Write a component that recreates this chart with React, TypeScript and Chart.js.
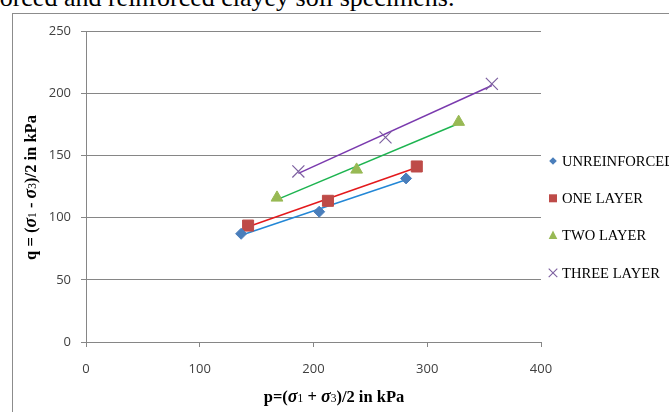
import React, { useEffect, useRef } from 'react';
import { Chart, registerables } from 'chart.js';

Chart.register(...registerables);

// ---- data ----
const seriesNames = ['UNREINFORCED', 'ONE LAYER', 'TWO LAYER', 'THREE LAYER'];
const unreinforcedP = [136.4, 205.0, 281.4];
const unreinforcedQ = [87.0, 104.7, 131.5];
const oneLayerP = [142.5, 212.7, 290.8];
const oneLayerQ = [93.6, 113.5, 141.1];
const twoLayerP = [167.9, 237.9, 327.6];
const twoLayerQ = [116.0, 138.5, 176.9];
const threeLayerP = [186.7, 263.3, 356.8];
const threeLayerQ = [137.1, 164.5, 207.5];
const xTickValues = [0, 100, 200, 300, 400];
const yTickValues = [0, 50, 100, 150, 200, 250];

const markerColors = ['#4A7EBB', '#BE4B48', '#98B954', '#7D60A0'];
const trendColors = ['#2387D6', '#E3191C', '#1DB450', '#7A3AAE'];
const pointStyles = ['rectRot', 'rect', 'triangle', 'crossRot'];
const pointRadii = [5.5, 7.8, 6.8, 8.5];

const SERIF = '"Liberation Serif", "Times New Roman", serif';
const SANS = '"Open Sans", "Liberation Sans", sans-serif';

function pairs(xs: number[], ys: number[]) {
  return xs.map((x, i) => ({ x, y: ys[i] }));
}

// least-squares trend line through the series, drawn from its first to last p
function trend(xs: number[], ys: number[]) {
  const n = xs.length;
  const mx = xs.reduce((s, v) => s + v, 0) / n;
  const my = ys.reduce((s, v) => s + v, 0) / n;
  let sxy = 0;
  let sxx = 0;
  for (let i = 0; i < n; i++) {
    sxy += (xs[i] - mx) * (ys[i] - my);
    sxx += (xs[i] - mx) * (xs[i] - mx);
  }
  const b = sxy / sxx;
  const a = my - b * mx;
  const x0 = Math.min(...xs);
  const x1 = Math.max(...xs);
  return [
    { x: x0, y: a + b * x0 },
    { x: x1, y: a + b * x1 },
  ];
}

type Run = { t: string; f: string; dy?: number };

function drawRuns(ctx: CanvasRenderingContext2D, runs: Run[], cx: number, baseline: number) {
  let total = 0;
  const widths = runs.map((r) => {
    ctx.font = r.f;
    const w = ctx.measureText(r.t).width;
    total += w;
    return w;
  });
  let x = cx - total / 2;
  ctx.textAlign = 'left';
  ctx.textBaseline = 'alphabetic';
  runs.forEach((r, i) => {
    ctx.font = r.f;
    ctx.fillText(r.t, x, baseline + (r.dy || 0));
    x += widths[i];
  });
}

const B = `bold 16.5px ${SERIF}`;
const BI = `italic bold 18px ${SERIF}`;
const SM = `11.5px ${SERIF}`;

const yTitleRuns: Run[] = [
  { t: 'q = (', f: B },
  { t: 'σ', f: BI },
  { t: '1', f: SM },
  { t: ' - ', f: B },
  { t: 'σ', f: BI },
  { t: '3', f: SM },
  { t: ')/2 in kPa', f: B },
];
const xTitleRuns: Run[] = [
  { t: 'p=(', f: B },
  { t: 'σ', f: BI },
  { t: '1', f: SM },
  { t: ' + ', f: B },
  { t: 'σ', f: BI },
  { t: '3', f: SM },
  { t: ')/2 in kPa', f: B },
];

function legendMarker(ctx: CanvasRenderingContext2D, i: number, x: number, y: number) {
  ctx.save();
  ctx.fillStyle = markerColors[i];
  ctx.strokeStyle = markerColors[i];
  ctx.beginPath();
  if (i === 0) {
    const r = 3.8;
    ctx.moveTo(x - r, y);
    ctx.lineTo(x, y - r);
    ctx.lineTo(x + r, y);
    ctx.lineTo(x, y + r);
    ctx.closePath();
    ctx.fill();
  } else if (i === 1) {
    ctx.rect(x - 4, y - 4, 8, 8);
    ctx.fill();
  } else if (i === 2) {
    ctx.moveTo(x, y - 5);
    ctx.lineTo(x + 4.3, y + 3.5);
    ctx.lineTo(x - 4.3, y + 3.5);
    ctx.closePath();
    ctx.fill();
  } else {
    const r = 4.3;
    ctx.lineWidth = 1.1;
    ctx.moveTo(x - r, y - r);
    ctx.lineTo(x + r, y + r);
    ctx.moveTo(x + r, y - r);
    ctx.lineTo(x - r, y + r);
    ctx.stroke();
  }
  ctx.restore();
}

const overlayPlugin = {
  id: 'overlayTexts',
  afterDraw(chart: any) {
    const ctx: CanvasRenderingContext2D = chart.ctx;
    const a = chart.chartArea;
    ctx.save();
    ctx.fillStyle = '#000000';
    // x axis title
    drawRuns(ctx, xTitleRuns, 334, 402);
    // y axis title
    ctx.save();
    ctx.translate(30, (a.top + a.bottom) / 2 + 1);
    ctx.rotate(-Math.PI / 2);
    drawRuns(ctx, yTitleRuns, 0, 5.5);
    ctx.restore();
    // legend
    const lx = a.right + 12;
    const ly0 = 161;
    const step = 37.3;
    seriesNames.forEach((name, i) => {
      const y = ly0 + i * step;
      legendMarker(ctx, i, lx, y);
      ctx.fillStyle = '#000000';
      ctx.font = `14.6px ${SERIF}`;
      ctx.textAlign = 'left';
      ctx.textBaseline = 'middle';
      ctx.fillText(name, lx + 9, y + 1);
    });
    ctx.restore();
  },
};

export default function App() {
  const ref = useRef<HTMLCanvasElement | null>(null);

  useEffect(() => {
    if (!ref.current) return;
    const xs = [unreinforcedP, oneLayerP, twoLayerP, threeLayerP];
    const ys = [unreinforcedQ, oneLayerQ, twoLayerQ, threeLayerQ];

    const trendSets = xs.map((x, i) => ({
      type: 'line' as const,
      label: seriesNames[i] + ' trend',
      data: trend(x, ys[i]),
      showLine: true,
      borderColor: trendColors[i],
      borderWidth: 1.5,
      pointRadius: 0,
      fill: false,
      order: 2,
    }));
    const pointSets = xs.map((x, i) => ({
      type: 'scatter' as const,
      label: seriesNames[i],
      data: pairs(x, ys[i]),
      showLine: false,
      pointStyle: pointStyles[i],
      pointRadius: pointRadii[i],
      pointBackgroundColor: markerColors[i],
      pointBorderColor: markerColors[i],
      pointBorderWidth: i === 3 ? 1.2 : 1,
      order: 1,
    }));

    const chart = new Chart(ref.current, {
      type: 'scatter',
      data: { datasets: [...trendSets, ...pointSets] as any },
      options: {
        animation: false,
        responsive: false,
        maintainAspectRatio: false,
        layout: { padding: { top: 31, right: 128, left: 0, bottom: 0 } },
        plugins: {
          legend: { display: false },
          tooltip: { enabled: false },
          title: { display: false },
        },
        scales: {
          x: {
            type: 'linear',
            min: 0,
            max: 400,
            afterBuildTicks: (s: any) => {
              s.ticks = xTickValues.map((v) => ({ value: v }));
            },
            afterFit: (s: any) => {
              s.height = 70;
            },
            grid: {
              drawOnChartArea: false,
              drawTicks: true,
              tickLength: 5,
              tickColor: '#868686',
              color: '#868686',
            },
            border: { color: '#868686', width: 1 },
            ticks: {
              padding: 14,
              color: '#404040',
              font: { family: SANS, size: 13 },
              maxRotation: 0,
            },
          },
          y: {
            type: 'linear',
            min: 0,
            max: 250,
            afterBuildTicks: (s: any) => {
              s.ticks = yTickValues.map((v) => ({ value: v }));
            },
            afterFit: (s: any) => {
              s.width = 86;
            },
            grid: {
              drawOnChartArea: true,
              drawTicks: true,
              tickLength: 5,
              tickColor: '#868686',
              color: '#868686',
              lineWidth: 1,
            },
            border: { color: '#868686', width: 1 },
            ticks: {
              padding: 10,
              color: '#404040',
              font: { family: SANS, size: 13 },
            },
          },
        },
      },
      plugins: [overlayPlugin],
    });
    return () => chart.destroy();
  }, []);

  return (
    <div
      style={{
        position: 'fixed',
        left: 0,
        top: 0,
        width: 669,
        height: 412,
        overflow: 'hidden',
        background: '#ffffff',
      }}
    >
      <div
        style={{
          position: 'absolute',
          left: -9,
          top: -15,
          whiteSpace: 'nowrap',
          fontFamily: SERIF,
          fontSize: 26,
          lineHeight: '26px',
          color: '#000000',
        }}
      >
        forced and reinforced clayey soil specimens.
      </div>
      <div
        style={{
          position: 'absolute',
          left: 12,
          top: 13,
          width: 720,
          height: 460,
          border: '1px solid #8c8c8c',
          boxSizing: 'border-box',
        }}
      />
      <canvas
        ref={ref}
        width={669}
        height={412}
        style={{ position: 'absolute', left: 0, top: 0, width: 669, height: 412 }}
      />
    </div>
  );
}
